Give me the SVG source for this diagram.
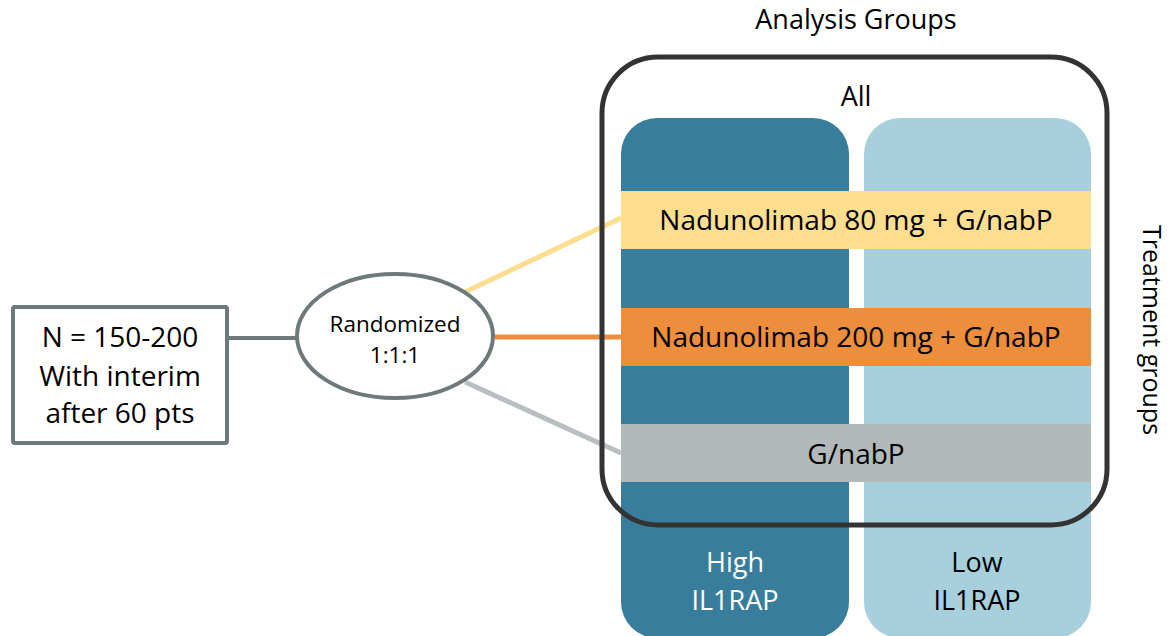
<svg xmlns="http://www.w3.org/2000/svg" width="1172" height="636" viewBox="0 0 1172 636">
<style>
text{font-family:"Open Sans","Liberation Sans",sans-serif;fill:#000;text-anchor:middle}
.t27{font-size:27px}
.t28{font-size:28px}
.t25{font-size:25px}
.t22{font-size:22.5px}
.wh{fill:#fff}
.node{stroke:#6e7979;stroke-width:4;fill:#fff}
.band{stroke:none}
</style>
<rect width="1172" height="636" fill="#fff"/>
<g id="connectors" fill="none" stroke-linecap="butt">
<line x1="227" y1="338" x2="298" y2="338" stroke="#6e7979" stroke-width="4"/>
<line x1="465" y1="292" x2="621" y2="218" stroke="#fdde8f" stroke-width="5"/>
<line x1="493" y1="337" x2="621" y2="337" stroke="#ec8e3c" stroke-width="5"/>
<line x1="465" y1="382" x2="621" y2="453" stroke="#b8bfc0" stroke-width="5"/>
</g>
<g id="col-high">
<rect x="621" y="118" width="228" height="520" rx="36" fill="#387d9c"/>
<text class="t27 wh" x="735" y="572">High</text>
<text class="t27 wh" x="735" y="610">IL1RAP</text>
</g>
<g id="col-low">
<rect x="864" y="118" width="227" height="520" rx="36" fill="#a7d0dc"/>
<text class="t27" x="977" y="572">Low</text>
<text class="t27" x="977" y="610">IL1RAP</text>
</g>
<g id="band-80">
<rect class="band" x="621" y="191" width="470" height="58" fill="#fdde8f"/>
<text class="t28" x="856" y="230">Nadunolimab 80 mg + G/nabP</text>
</g>
<g id="band-200">
<rect class="band" x="621" y="308" width="470" height="58" fill="#ec8e3c"/>
<text class="t28" x="856" y="347">Nadunolimab 200 mg + G/nabP</text>
</g>
<g id="band-gnabp">
<rect class="band" x="621" y="424" width="470" height="58" fill="#b3b9ba"/>
<text class="t28" x="856" y="464">G/nabP</text>
</g>
<g id="all">
<rect x="602" y="57" width="505" height="468" rx="56" fill="none" stroke="#333" stroke-width="5"/>
<text class="t27" x="856" y="106">All</text>
</g>
<g id="title">
<text class="t27" x="856" y="29">Analysis Groups</text>
</g>
<g id="treatment-label">
<text class="t25" transform="translate(1143 330) rotate(90)">Treatment groups</text>
</g>
<g id="population">
<rect class="node" x="13" y="307" width="214" height="136" rx="2"/>
<text class="t28" x="120" y="347">N = 150-200</text>
<text class="t28" x="120" y="386">With interim</text>
<text class="t28" x="120" y="423">after 60 pts</text>
</g>
<g id="randomized">
<ellipse class="node" cx="395" cy="336" rx="98" ry="62"/>
<text class="t22" x="395" y="332">Randomized</text>
<text class="t22" x="395" y="363">1:1:1</text>
</g>
</svg>
